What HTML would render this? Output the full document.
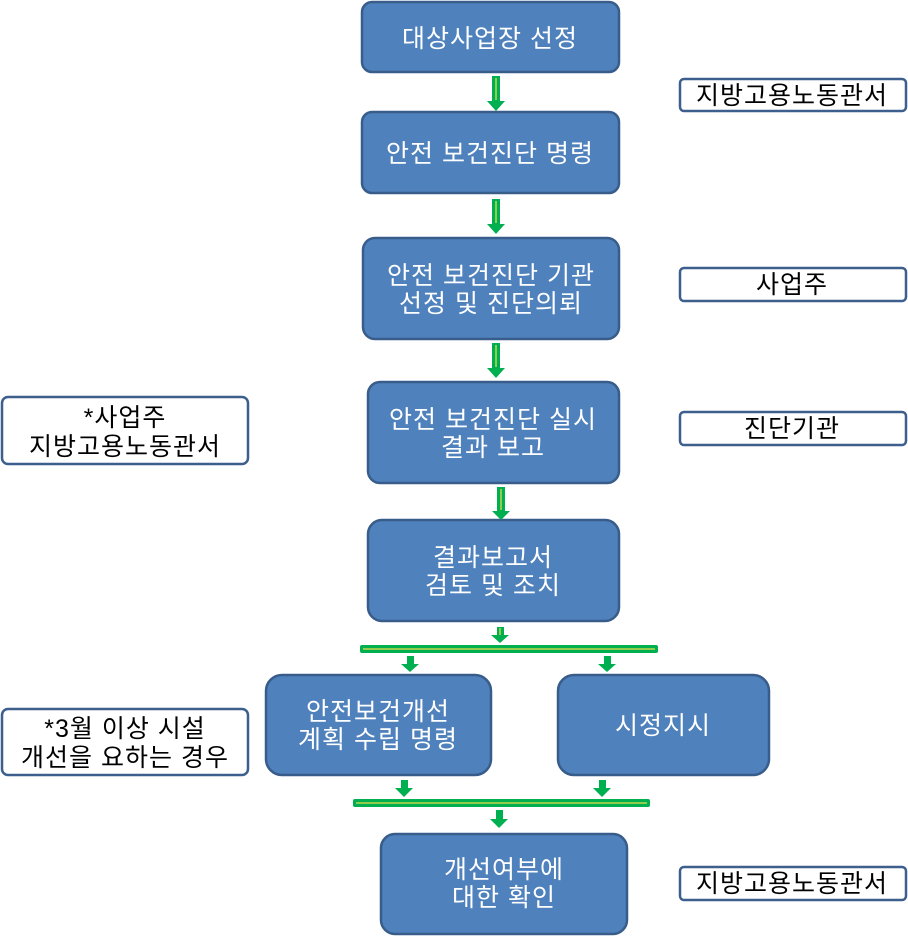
<!DOCTYPE html>
<html><head><meta charset="utf-8"><style>
body{margin:0;background:#fff}
svg{display:block}
text{font-family:"Liberation Sans","Noto Sans CJK KR","NanumGothic",sans-serif;font-size:25px;letter-spacing:1px;text-anchor:middle}
.b{fill:#4f81bd;stroke:#385d8a;stroke-width:2.5}
.w{fill:#fff}
.s{fill:#fff;stroke:#3c5f8e;stroke-width:2.5}
.a{fill:#00b050}
.y{stroke:#c4d64a;stroke-width:1.5}
</style></head><body>
<svg width="908" height="936" viewBox="0 0 908 936" xmlns="http://www.w3.org/2000/svg">
<!-- main boxes -->
<rect class="b" x="362" y="2" width="257" height="70" rx="10"/>
<text class="w" x="490" y="47">대상사업장 선정</text>
<rect class="b" x="362" y="112" width="257" height="81" rx="10"/>
<text class="w" x="490" y="162">안전 보건진단 명령</text>
<rect class="b" x="363" y="238" width="256" height="101" rx="12"/>
<text class="w" x="491" y="284">안전 보건진단 기관</text>
<text class="w" x="491" y="312">선정 및 진단의뢰</text>
<rect class="b" x="368" y="382" width="251" height="101" rx="12"/>
<text class="w" x="493" y="428">안전 보건진단 실시</text>
<text class="w" x="493" y="456">결과 보고</text>
<rect class="b" x="368" y="520" width="251" height="101" rx="14"/>
<text class="w" x="493" y="566">결과보고서</text>
<text class="w" x="493" y="594">검토 및 조치</text>
<rect class="b" x="266" y="675" width="225" height="100" rx="16"/>
<text class="w" x="378" y="720">안전보건개선</text>
<text class="w" x="378" y="748">계획 수립 명령</text>
<rect class="b" x="558" y="675" width="211" height="100" rx="16"/>
<text class="w" x="663" y="734">시정지시</text>
<rect class="b" x="381" y="834" width="246" height="100" rx="14"/>
<text class="w" x="504" y="878">개선여부에</text>
<text class="w" x="504" y="906">대한 확인</text>
<!-- side boxes -->
<rect class="s" x="680" y="79" width="226" height="32" rx="4"/>
<text x="792" y="104">지방고용노동관서</text>
<rect class="s" x="680" y="268" width="226" height="33" rx="4"/>
<text x="792" y="293">사업주</text>
<rect class="s" x="680" y="412" width="226" height="33" rx="4"/>
<text x="792" y="437">진단기관</text>
<rect class="s" x="680" y="867" width="226" height="33" rx="4"/>
<text x="792" y="892">지방고용노동관서</text>
<rect class="s" x="2" y="397" width="246" height="67" rx="6"/>
<text x="125" y="426">*사업주</text>
<text x="125" y="455">지방고용노동관서</text>
<rect class="s" x="2" y="709" width="246" height="66" rx="6"/>
<text x="125" y="737">*3월 이상 시설</text>
<text x="125" y="766">개선을 요하는 경우</text>
<!-- arrows -->
<g>
<path class="a" d="M492,76 H500 V101 H505 L496,111 L487,101 H492Z"/><line class="y" x1="496" y1="78" x2="496" y2="100"/>
<path class="a" d="M492,199 H500 V224 H505 L496,234 L487,224 H492Z"/><line class="y" x1="496" y1="201" x2="496" y2="223"/>
<path class="a" d="M492,343 H500 V368 H505 L496,378 L487,368 H492Z"/><line class="y" x1="496" y1="345" x2="496" y2="367"/>
<path class="a" d="M497,487 H505 V511 H510 L501,520 L492,511 H497Z"/><line class="y" x1="501" y1="489" x2="501" y2="510"/>
<path class="a" d="M497,627 H504 V635 H509 L500,643 L491,635 H497Z"/><line class="y" x1="500" y1="628" x2="500" y2="635"/>
<path class="a" d="M407,656 H414 V664 H419 L410,672 L401,664 H407Z"/>
<path class="a" d="M604,656 H611 V664 H616 L607,672 L598,664 H604Z"/>
<path class="a" d="M401,780 H408 V788 H413 L404,797 L395,788 H401Z"/>
<path class="a" d="M599,780 H606 V788 H611 L602,797 L593,788 H599Z"/>
<path class="a" d="M496,810 H503 V819 H508 L499,828 L490,819 H496Z"/>
<rect class="a" x="360" y="645" width="298" height="8" rx="2"/><line class="y" x1="363" y1="649" x2="655" y2="649"/>
<rect class="a" x="353" y="799" width="297" height="8" rx="2"/><line class="y" x1="356" y1="803" x2="647" y2="803"/>
</g>
</svg>
</body></html>
